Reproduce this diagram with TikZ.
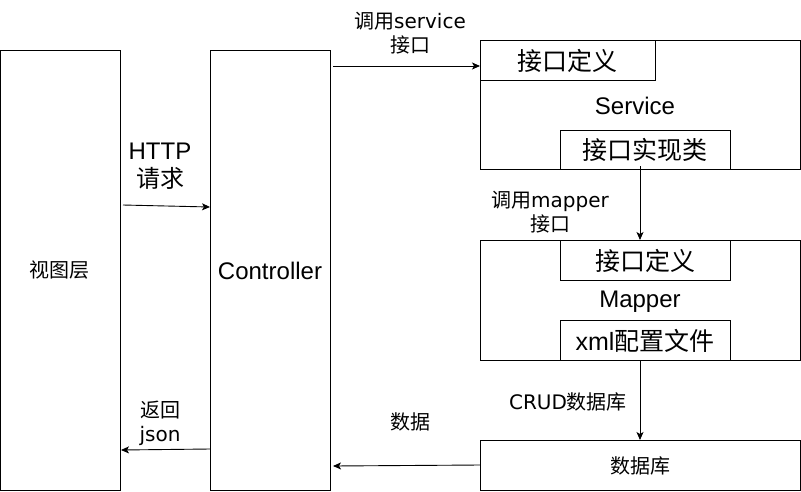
\documentclass[tikz,border=0pt]{standalone}
\usepackage{fontspec}
\setmainfont{Liberation Sans}
\newfontfamily\cjk{Noto Sans CJK SC}
\newfontfamily\dv{DejaVu Sans}
\usetikzlibrary{arrows.meta}
\begin{document}
\begin{tikzpicture}[x=1pt,y=-1pt,
  box/.style={draw, line width=1pt, outer sep=0pt, inner sep=0pt, anchor=north west},
  arr/.style={draw, line width=0.9pt, -{Stealth[length=8pt,width=7pt,inset=2pt]}},
  big/.style={font=\fontsize{24}{28}\selectfont, inner sep=0pt},
  bigc/.style={font=\fontsize{25}{28}\selectfont, inner sep=0pt},
  lab/.style={font=\fontsize{20}{24}\selectfont, inner sep=0pt, align=center},
  biglab/.style={font=\fontsize{24}{28}\selectfont, inner sep=0pt, align=center}]
\useasboundingbox (0,0) rectangle (801,491);
% boxes
\node[box, minimum width=119.5pt, minimum height=440pt] (view) at (0.5,50) {};
\node[box, minimum width=120pt, minimum height=440pt] (ctrl) at (210,50) {};
\node[box, minimum width=320pt, minimum height=129pt] (svc) at (480,40) {};
\node[box, minimum width=175pt, minimum height=40pt] (svcdef) at (480,40) {};
\node[box, minimum width=170pt, minimum height=39pt] (svcimpl) at (560,130) {};
\node[box, minimum width=320pt, minimum height=120pt] (mapper) at (480,240) {};
\node[box, minimum width=170pt, minimum height=40pt] (mapdef) at (560,240) {};
\node[box, minimum width=170pt, minimum height=40pt] (mapxml) at (560,320) {};
\node[box, minimum width=320pt, minimum height=50pt] (db) at (480,440) {};
% box texts
\node[lab] (tview) at (60,270) {\cjk 视图层};
\node[big] (tctrl) at (270,271) {Controller};
\node[big] (tsvc) at (635,106) {Service};
\node[big] (tmap) at (640,302) {Mapper};
\node[bigc] (tsvcdef) at (567,61) {\cjk 接口定义};
\node[bigc] (tsvcimpl) at (645,150) {\cjk 接口实现类};
\node[bigc] (tmapdef) at (645,261) {\cjk 接口定义};
\node[bigc] (tmapxml) at (645,341) {xml{\cjk 配置文件}};
\node[lab] (tdb) at (640,466) {\cjk 数据库};
% edge labels
\node[biglab] (lhttp) at (160,166) {HTTP\\{\cjk 请求}};
\node[lab] (lsvc) at (410,33) {{\cjk 调用}{\dv service}\\{\cjk 接口}};
\node[lab] (lmap) at (550,212) {{\cjk 调用}{\dv mapper}\\{\cjk 接口}};
\node[lab] (lcrud) at (568,402) {{\dv CRUD}{\cjk 数据库}};
\node[lab] (ldata) at (410,422) {\cjk 数据};
\node[lab] (lret) at (160,423) {{\cjk 返回}\\{\dv json}};
% connector ends
\coordinate (h1) at (123,205);
\coordinate (h2) at (210,207);
\coordinate (s1) at (333,66);
\coordinate (s2) at (480,66);
\coordinate (d1) at (333,466);
\coordinate (r1) at (210,449);
\coordinate (r2) at (121,450);
% connectors
\draw[arr] (h1) -- (h2);
\draw[arr] (s1) -- (s2);
\draw[arr] ([yshift=3pt]svc.south) -- (mapper.north);
\draw[arr] (mapper.south) -- (db.north);
\draw[arr] (db.west) -- (d1);
\draw[arr] (r1) -- (r2);
\end{tikzpicture}
\end{document}
